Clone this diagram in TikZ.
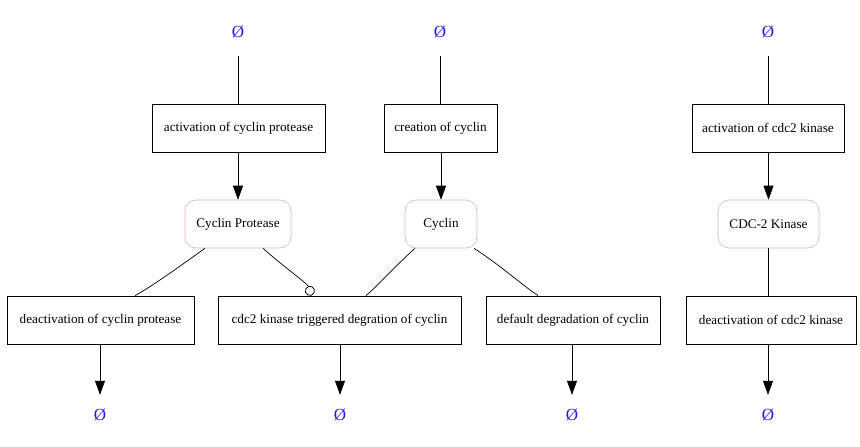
\documentclass[tikz,border=0pt]{standalone}
\usepackage{fontspec}
\setmainfont{Liberation Serif}
\usetikzlibrary{arrows.meta}
\definecolor{specborder}{RGB}{225,175,195}
\definecolor{sinkblue}{RGB}{30,30,230}
\begin{document}
\begin{tikzpicture}[x=1pt,y=-1pt,
  reaction/.style={draw,line width=0.8pt,minimum height=48pt,inner sep=0pt,font=\fontsize{13.2}{15}\selectfont},
  species/.style={draw=specborder,line width=0.6pt,rounded corners=11pt,minimum height=48pt,inner sep=0pt,font=\fontsize{13.2}{15}\selectfont},
  sink/.style={minimum height=40pt,inner sep=0pt,text=sinkblue,font=\fontsize{17}{18}\selectfont},
  edge/.style={line width=0.7pt},
  arr/.style={edge,-{Triangle[length=14pt,width=10pt]}},
  inh/.style={edge,-{Circle[open,length=10pt,width=10pt,line width=0.8pt]}}]
\useasboundingbox (0,0) rectangle (860,447);
% sinks
\node[sink] (e1) at (238,32) {Ø};
\node[sink] (e2) at (440,32) {Ø};
\node[sink] (e3) at (768,32) {Ø};
\node[sink] (e4) at (100,415) {Ø};
\node[sink] (e5) at (340,415) {Ø};
\node[sink] (e6) at (572,415) {Ø};
\node[sink] (e7) at (768,415) {Ø};
% reactions top
\node[reaction,minimum width=173pt] (r1) at (238.5,128) {activation of cyclin protease};
\node[reaction,minimum width=113pt] (r2) at (440.5,128) {creation of cyclin};
\node[reaction,minimum width=152pt] (r3) at (768,128) {activation of cdc2 kinase};
% species
\node[species,minimum width=106pt] (s1) at (238,224) {Cyclin Protease};
\node[species,minimum width=72pt] (s2) at (441,224) {Cyclin};
\node[species,minimum width=101pt] (s3) at (768.5,224) {CDC-2 Kinase};
% reactions bottom
\node[reaction,minimum width=187pt] (r4) at (100.5,320) {deactivation of cyclin protease};
\node[reaction,minimum width=243pt] (r5) at (339.5,320) {cdc2 kinase triggered degration of cyclin};
\node[reaction,minimum width=174pt] (r6) at (573,320) {default degradation of cyclin};
\node[reaction,minimum width=170pt] (r7) at (771,320) {deactivation of cdc2 kinase};
% top lines
\draw[edge,shorten <=4pt] (e1.south) -- (e1.south |- r1.north);
\draw[edge,shorten <=4pt] (e2.south) -- (e2.south |- r2.north);
\draw[edge,shorten <=4pt] (e3.south) -- (e3.south |- r3.north);
% reaction -> species
\draw[arr] (r1.south -| s1.north) -- (s1.north);
\draw[arr] (r2.south -| s2.north) -- (s2.north);
\draw[arr] (r3.south -| s3.north) -- (s3.north);
% species -> reactions
\draw[edge] ([xshift=-33pt]s1.south) .. controls +(-25,18) and +(15,-8) .. ([xshift=34.5pt]r4.north);
\draw[inh] ([xshift=25pt]s1.south) .. controls +(20,18) and +(-4,-12) .. ([xshift=-28pt]r5.north);
\draw[edge] ([xshift=-26pt]s2.south) .. controls +(-20,18) and +(12,-10) .. ([xshift=26.5pt]r5.north);
\draw[edge] ([xshift=33pt]s2.south) .. controls +(25,16) and +(-15,-10) .. ([xshift=-35pt]r6.north);
\draw[edge] (s3.south) -- (s3.south |- r7.north);
% reactions -> sinks
\draw[arr] (r4.south -| e4.north) -- (e4.north);
\draw[arr] (r5.south -| e5.north) -- (e5.north);
\draw[arr] (r6.south -| e6.north) -- (e6.north);
\draw[arr] (r7.south -| e7.north) -- (e7.north);
\end{tikzpicture}
\end{document}
